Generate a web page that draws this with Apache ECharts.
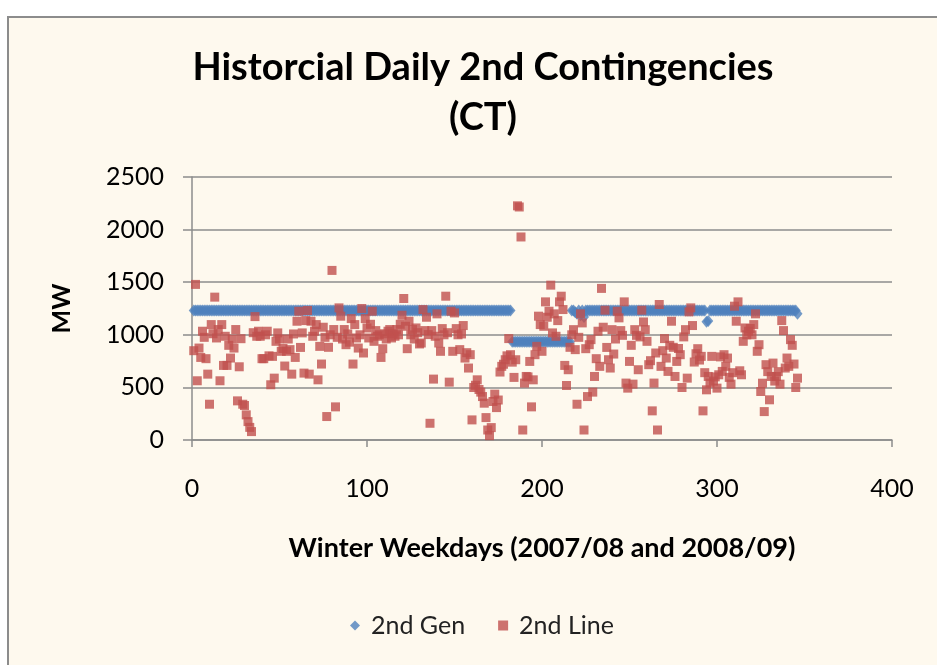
<!DOCTYPE html>
<html>
<head>
<meta charset="utf-8">
<script src="https://cdn.jsdelivr.net/npm/echarts@6/dist/echarts.min.js"></script>
<style>
html,body{margin:0;padding:0;background:#ffffff;}
#chart{width:937px;height:665px;}
</style>
</head>
<body>
<div id="chart"></div>
<script>
var titleLines = ['Historcial Daily 2nd Contingencies', '(CT)'];
var xAxisName = 'Winter Weekdays (2007/08 and 2008/09)';
var yAxisName = 'MW';
var seriesNames = ['2nd Gen', '2nd Line'];
var xTicks = [0, 100, 200, 300, 400];
var yTicks = [0, 500, 1000, 1500, 2000, 2500];

// 2nd Gen, weekday 1..346
var genValues = [
1230,1230,1230,1230,1230,1230,1230,1230,1230,1230,1230,1230,1230,1230,1230,1230,1230,1230,1230,1230,
1230,1230,1230,1230,1230,1230,1230,1230,1230,1230,1230,1230,1230,1230,1230,1230,1230,1230,1230,1230,
1230,1230,1230,1230,1230,1230,1230,1230,1230,1230,1230,1230,1230,1230,1230,1230,1230,1230,1230,1230,
1230,1230,1230,1230,1230,1230,1230,1230,1230,1230,1230,1230,1230,1230,1230,1230,1230,1230,1230,1230,
1230,1230,1230,1230,1230,1230,1230,1230,1230,1230,1230,1230,1230,1230,1230,1230,1230,1230,1230,1230,
1230,1230,1230,1230,1230,1230,1230,1230,1230,1230,1230,1230,1230,1230,1230,1230,1230,1230,1230,1230,
1230,1230,1230,1230,1230,1230,1230,1230,1230,1230,1230,1230,1230,1230,1230,1230,1230,1230,1230,1230,
1230,1230,1230,1230,1230,1230,1230,1230,1230,1230,1230,1230,1230,1230,1230,1230,1230,1230,1230,1230,
1230,1230,1230,1230,1230,1230,1230,1230,1230,1230,1230,1230,1230,1230,1230,1230,1230,1230,1230,1230,
1230,1230,
935,935,935,935,935,935,935,935,935,935,935,935,935,935,935,935,935,935,935,935,
935,935,935,935,935,935,935,935,935,935,935,935,935,935,
1230,1230,1215,1200,1230,1185,1230,1170,1230,
1230,1230,1230,1230,1230,1230,1230,1230,1230,1230,1230,1230,1230,1230,1230,1230,1230,1230,1230,1230,
1230,1230,1230,1230,1230,1230,1230,1230,1230,1230,1230,1230,1230,1230,1230,1230,1230,1230,1230,1230,
1230,1230,1230,1230,1230,1230,1230,1230,1230,1230,1230,1230,1230,1230,1230,1230,1230,1230,1230,1230,
1230,1230,1230,1230,1230,1230,1230,1230,
1125,1130,
1230,1230,1230,1230,1230,1230,1230,1230,1230,1230,1230,1230,1230,1230,1230,1230,1230,1230,1230,1230,
1230,1230,1230,1230,1230,1230,1230,1230,1230,1230,1230,1230,1230,1230,1230,1230,1230,1230,1230,1230,
1230,1230,1230,1230,1230,1230,1230,1230,1230,1230,
1200
];

// 2nd Line, weekday 1..346
var lineValues = [
849,1479,563,874,785,1034,976,773,626,340,
1097,1010,1358,970,1050,563,1097,709,986,709,
900,779,960,874,1050,372,696,963,340,328,
239,175,120,80,1020,1173,986,1034,986,773,
773,1000,1034,800,525,795,588,938,1018,960,
843,870,703,843,960,859,626,1008,785,1129,
1224,880,1018,636,1135,1231,626,1129,986,1034,
1097,572,890,722,1072,976,223,881,1000,1612,
1050,315,976,1256,1177,960,1050,906,1008,930,
1154,722,1097,970,874,1000,1250,827,1154,1065,
970,1100,1224,938,1040,986,1000,785,868,1010,
960,1034,1050,970,1010,986,1050,1000,1100,1186,
1345,1081,868,1129,1000,1050,960,1065,1020,913,
922,1240,1040,1167,1002,159,1040,579,986,1199,
922,843,1059,1000,1367,1020,550,1224,843,1208,
1059,1000,859,1008,1088,779,830,684,811,191,
499,520,572,480,455,413,350,213,95,41,
118,366,436,308,380,646,700,720,763,800,
964,811,740,595,763,2226,2215,1930,95,541,
604,600,747,315,572,811,890,1177,1097,843,
1081,1313,1167,1224,1472,1018,1199,986,1135,1313,
1367,1240,709,518,668,881,1000,1049,859,340,
976,1199,1113,95,868,413,906,954,455,604,
773,1034,700,1441,1072,1234,880,763,684,1049,
817,960,1224,1161,1040,995,1313,541,493,747,
900,531,1049,995,668,980,1234,1122,1049,938,
716,754,277,541,827,95,1288,700,849,964,
779,652,900,1129,881,604,747,870,811,499,
980,1049,588,1218,1256,1088,741,820,868,760,
795,277,640,477,604,541,795,560,600,493,
620,790,652,811,700,779,595,531,640,1272,
1129,1313,658,620,938,1065,1000,1034,1060,1000,
1097,1199,843,906,461,540,270,716,650,382,
604,731,560,604,650,531,1135,1040,684,779,
700,954,900,722,499,588
];

var genData = genValues.map(function (v, i) { return [i + 1, v]; });
var lineData = lineValues.map(function (v, i) { return [i + 1, v]; });

var FONT = 'Lato';
var chart = echarts.init(document.getElementById('chart'), null, {renderer: 'canvas'});
chart.setOption({
  animation: false,
  backgroundColor: '#ffffff',
  graphic: [{
    type: 'rect', z: -10, silent: true,
    shape: {x: 8, y: 17, width: 960, height: 700},
    style: {fill: '#FEF9EE', stroke: '#8C8C8C', lineWidth: 2}
  }],
  title: {
    text: titleLines.join('\n'),
    left: 478, top: 38, textAlign: 'center',
    textStyle: {fontFamily: FONT, fontWeight: 'bold', fontSize: 38, color: '#000', lineHeight: 50}
  },
  legend: {
    left: 345, top: 608,
    itemGap: 33, itemWidth: 10, itemHeight: 10,
    textStyle: {fontFamily: FONT, fontSize: 25, color: '#222', padding: [0, 0, 0, 6]},
    data: [
      {name: seriesNames[0], icon: 'diamond', itemStyle: {color: '#4F81BD'}},
      {name: seriesNames[1], icon: 'rect', itemStyle: {color: '#C0504D'}}
    ]
  },
  grid: {left: 192, right: 45, top: 177, bottom: 225, containLabel: false},
  xAxis: {
    type: 'value', min: xTicks[0], max: xTicks[xTicks.length - 1], interval: 100,
    name: xAxisName, nameLocation: 'middle', nameGap: 95,
    nameTextStyle: {fontFamily: FONT, fontWeight: 'bold', fontSize: 27, color: '#000'},
    axisLine: {show: true, onZero: false, lineStyle: {color: '#8C8C8C', width: 1.5}},
    axisTick: {show: true, inside: false, length: 7, lineStyle: {color: '#8C8C8C', width: 1.5}},
    axisLabel: {fontFamily: FONT, fontSize: 25, color: '#000', margin: 36},
    splitLine: {show: false}
  },
  yAxis: {
    type: 'value', min: yTicks[0], max: yTicks[yTicks.length - 1], interval: 500,
    name: yAxisName, nameLocation: 'middle', nameGap: 118, nameRotate: 90,
    nameTextStyle: {fontFamily: FONT, fontWeight: 'bold', fontSize: 25, color: '#000'},
    axisLine: {show: true, lineStyle: {color: '#8C8C8C', width: 1.5}},
    axisTick: {show: true, inside: false, length: 9, lineStyle: {color: '#8C8C8C', width: 1.5}},
    axisLabel: {fontFamily: FONT, fontSize: 25, color: '#000', margin: 28,
      formatter: function (v) { return String(v); }},
    splitLine: {show: true, lineStyle: {color: '#8C8C8C', width: 1.5}}
  },
  series: [
    {
      name: seriesNames[0], type: 'scatter', data: genData,
      symbol: 'diamond', symbolSize: [10, 12],
      itemStyle: {color: '#4F81BD'}, z: 2
    },
    {
      name: seriesNames[1], type: 'scatter', data: lineData,
      symbol: 'rect', symbolSize: 9,
      itemStyle: {color: '#C0504D'}, z: 3
    }
  ]
});
</script>
</body>
</html>
